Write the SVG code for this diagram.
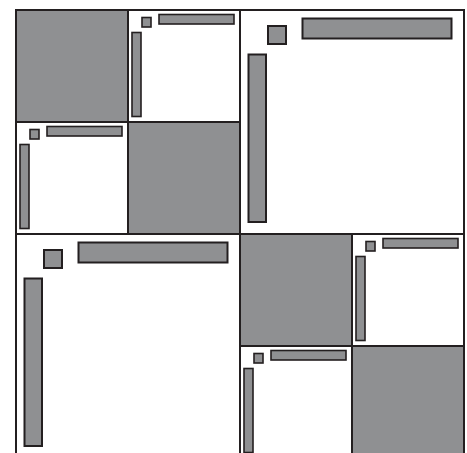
<svg xmlns="http://www.w3.org/2000/svg" width="467" height="453" viewBox="0 0 467 453">
<style>
.cell{fill:#ffffff;stroke:#231f20;stroke-width:2}
.dark{fill:#8f9092;stroke:#231f20;stroke-width:2}
.bar{fill:#8f9092;stroke:#231f20;stroke-width:1.6}
.barL{fill:#8f9092;stroke:#231f20;stroke-width:2}
</style>
<defs>
<g id="small">
<rect class="cell" x="0" y="0" width="112" height="112"/>
<rect class="bar" x="14" y="7.5" width="9" height="9.5"/>
<rect class="bar" x="31" y="4.5" width="75" height="9.5"/>
<rect class="bar" x="4" y="22.5" width="9" height="84"/>
</g>
<g id="large">
<rect class="cell" x="0" y="0" width="224" height="224"/>
<rect class="barL" x="28" y="16" width="18" height="18"/>
<rect class="barL" x="62.5" y="8.5" width="149" height="20"/>
<rect class="barL" x="8.5" y="44.5" width="17.5" height="167.5"/>
</g>
</defs>
<rect x="0" y="0" width="467" height="453" fill="#ffffff"/>
<g id="quadrant-top-left">
<rect id="tl-shade-a" class="dark" x="16" y="10" width="112" height="112"/>
<use id="tl-cell-a" href="#small" x="128" y="10"/>
<use id="tl-cell-b" href="#small" x="16" y="122"/>
<rect id="tl-shade-b" class="dark" x="128" y="122" width="112" height="112"/>
</g>
<g id="quadrant-top-right">
<use id="tr-cell" href="#large" x="240" y="10"/>
</g>
<g id="quadrant-bottom-left">
<use id="bl-cell" href="#large" x="16" y="234"/>
</g>
<g id="quadrant-bottom-right">
<rect id="br-shade-a" class="dark" x="240" y="234" width="112" height="112"/>
<use id="br-cell-a" href="#small" x="352" y="234"/>
<use id="br-cell-b" href="#small" x="240" y="346"/>
<rect id="br-shade-b" class="dark" x="352" y="346" width="112" height="112"/>
</g>
<g id="connectors"/>
</svg>
